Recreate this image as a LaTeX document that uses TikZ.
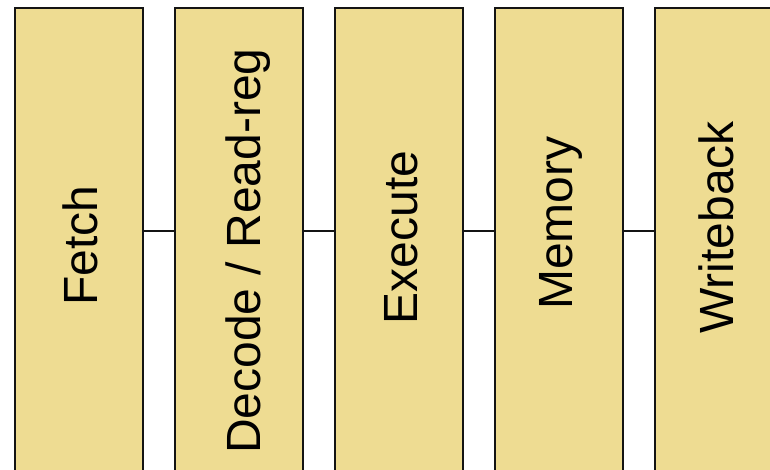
\documentclass[tikz,border=0pt]{standalone}
\usepackage{fontspec}
\setmainfont{Liberation Sans}
\definecolor{stagefill}{RGB}{238,220,146}
\definecolor{stageedge}{RGB}{20,20,20}
\begin{document}
\begin{tikzpicture}[x=1pt,y=-1pt,
  stagebox/.style={draw=stageedge,fill=stagefill,line width=2.4pt,
    minimum width=128pt,minimum height=490pt,anchor=north west,inner sep=0pt},
  stagelabel/.style={rotate=90,anchor=base,inner sep=0pt,font=\fontsize{48}{56}\selectfont},
  link/.style={draw=stageedge,line width=1.6pt}]
  \useasboundingbox (0,0) rectangle (770,469);
  \clip (0,0) rectangle (770,469);
  % pipeline stage boxes (running off the bottom edge)
  \node[stagebox] (s1) at (14,7) {};
  \node[stagebox] (s2) at (174,7) {};
  \node[stagebox] (s3) at (334,7) {};
  \node[stagebox] (s4) at (494,7) {};
  \node[stagebox] (s5) at (654,7) {};
  % connectors between neighbouring stages
  \coordinate (ly) at (0,231);
  \draw[link] (s1.east |- ly) -- (s2.west |- ly);
  \draw[link] (s2.east |- ly) -- (s3.west |- ly);
  \draw[link] (s3.east |- ly) -- (s4.west |- ly);
  \draw[link] (s4.east |- ly) -- (s5.west |- ly);
  % stage names
  \node[stagelabel] (t1) at (97,245.5) {Fetch};
  \node[stagelabel] (t2) at (260,251) {Decode / Read-reg};
  \node[stagelabel] (t3) at (417,237.5) {Execute};
  \node[stagelabel] (t4) at (572,223) {Memory};
  \node[stagelabel] (t5) at (733,227.5) {Writeback};
\end{tikzpicture}
\end{document}
